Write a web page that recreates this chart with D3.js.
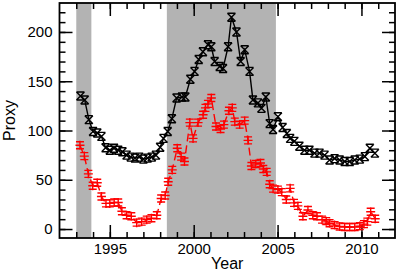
<!DOCTYPE html>
<html>
<head>
<meta charset="utf-8">
<script src="https://cdn.jsdelivr.net/npm/d3@7"></script>
<style>
  body { margin: 0; background: #fff; }
  svg text { font-family: "Liberation Sans", Arial, sans-serif; }
</style>
</head>
<body>
<div id="chart"></div>
<script>
// shaded intervals (years)
var bands = [[1993.0, 1993.9], [1998.4, 2004.9]];

// black series
var blackYears = [1993.25, 1993.5, 1993.75, 1994.0, 1994.25, 1994.5, 1994.75, 1995.0, 1995.25, 1995.5,
  1995.75, 1996.0, 1996.25, 1996.5, 1996.75, 1997.0, 1997.25, 1997.5, 1997.75, 1998.0,
  1998.2, 1998.45, 1998.7, 1998.98, 1999.3, 1999.5, 1999.8, 2000.05, 2000.3, 2000.55,
  2000.85, 2001.05, 2001.25, 2001.55, 2001.75, 2002.05, 2002.25, 2002.55, 2002.8, 2003.04,
  2003.33, 2003.53, 2003.83, 2004.04, 2004.3, 2004.53, 2004.73, 2005.02, 2005.3, 2005.55,
  2005.75, 2006.0, 2006.3, 2006.6, 2006.9, 2007.2, 2007.5, 2007.8, 2008.1, 2008.4,
  2008.7, 2009.0, 2009.3, 2009.6, 2009.9, 2010.2, 2010.5, 2010.8];
var blackVals = [135, 131, 111, 99, 97.5, 94, 82.5, 80, 82, 80,
  78.5, 75, 73, 72, 73, 71, 72, 73, 75, 83,
  92, 99, 112, 133, 134, 134, 152, 160, 172, 180,
  187, 185, 170, 165, 163, 185, 215, 200, 170, 182,
  160, 131, 128, 122.5, 134, 107, 101, 114, 103, 97,
  92, 89, 84, 80, 80, 77, 77, 75, 70, 71.5,
  70, 68.5, 68.5, 70, 71, 73.5, 82, 77];

// red series
var redYears = [1993.22, 1993.48, 1993.72, 1993.98, 1994.25, 1994.5, 1994.77, 1995.0, 1995.26, 1995.5,
  1995.72, 1996.0, 1996.28, 1996.6, 1996.9, 1997.2, 1997.48, 1997.8, 1998.06, 1998.3,
  1998.48, 1998.72, 1999.02, 1999.25, 1999.45, 1999.77, 1999.96, 2000.26, 2000.56, 2000.7,
  2000.85, 2001.05, 2001.33, 2001.6, 2001.8, 2002.1, 2002.3, 2002.45, 2002.74, 2003.04,
  2003.24, 2003.44, 2003.7, 2003.98, 2004.15, 2004.35, 2004.53, 2004.73, 2005.02, 2005.25,
  2005.52, 2005.75, 2005.98, 2006.21, 2006.51, 2006.81, 2007.1, 2007.35, 2007.65, 2007.9,
  2008.1, 2008.4, 2008.7, 2009.0, 2009.3, 2009.6, 2009.9, 2010.15, 2010.35, 2010.55,
  2010.82];
var redVals = [85, 74, 56, 44, 47, 33, 26, 26, 27, 27,
  18, 14, 13, 6.5, 7.5, 9.5, 11, 14, 31, 34,
  48, 60, 82, 73.5, 68.5, 108, 92, 108, 116, 123,
  127, 133, 104, 101.5, 106, 120, 123, 109, 106, 110,
  90, 64, 66, 67, 61, 58, 45.5, 41, 40, 37.5,
  30, 41.3, 26.5, 23.5, 13, 19.3, 14, 13, 9.5, 8,
  5.8, 4, 2.5, 2, 2, 2, 3, 5, 7.5, 17.6,
  10.5];

// axis ticks
var yMajor = [0, 50, 100, 150, 200];
var yMinor = [0, 10, 20, 30, 40, 50, 60, 70, 80, 90, 100, 110, 120, 130, 140, 150, 160, 170, 180, 190, 200, 210, 220];
var xMajor = [1995, 2000, 2005, 2010];
var xMinor = [1993, 1994, 1995, 1996, 1997, 1998, 1999, 2000, 2001, 2002, 2003, 2004, 2005, 2006, 2007, 2008, 2009, 2010, 2011];

var W = 399, H = 273;
var plotL = 59.5, plotR = 395, plotT = 3, plotB = 238;

var x = d3.scaleLinear().domain([1992, 2012]).range([plotL, plotR]);
var y = d3.scaleLinear().domain([-9.1, 229.4]).range([plotB, plotT]);

var svg = d3.select("#chart").append("svg")
    .attr("width", W)
    .attr("height", H);

// grey bands
svg.append("g").selectAll("rect")
    .data(bands)
  .enter().append("rect")
    .attr("x", function(d) { return x(d[0]); })
    .attr("y", plotT)
    .attr("width", function(d) { return x(d[1]) - x(d[0]); })
    .attr("height", plotB - plotT)
    .attr("fill", "#b3b3b3");

function styleAxis(g) {
  g.select(".domain").remove();
  g.selectAll("line").attr("stroke", "#000").attr("stroke-width", 1.5);
  g.selectAll("text").attr("fill", "#000").style("font-size", "15px");
}

// left / right
svg.append("g").attr("transform", "translate(" + plotL + ",0)")
    .call(d3.axisLeft(y).tickValues(yMinor).tickSize(-6).tickFormat(""))
    .call(styleAxis);
svg.append("g").attr("transform", "translate(" + plotL + ",0)")
    .call(d3.axisLeft(y).tickValues(yMajor).tickSize(-13).tickPadding(7).tickFormat(d3.format("d")))
    .call(styleAxis);
svg.append("g").attr("transform", "translate(" + plotR + ",0)")
    .call(d3.axisRight(y).tickValues(yMinor).tickSize(-6).tickFormat(""))
    .call(styleAxis);
svg.append("g").attr("transform", "translate(" + plotR + ",0)")
    .call(d3.axisRight(y).tickValues(yMajor).tickSize(-13).tickFormat(""))
    .call(styleAxis);

// bottom / top
svg.append("g").attr("transform", "translate(0," + plotB + ")")
    .call(d3.axisBottom(x).tickValues(xMinor).tickSize(-6).tickFormat(""))
    .call(styleAxis);
svg.append("g").attr("transform", "translate(0," + plotB + ")")
    .call(d3.axisBottom(x).tickValues(xMajor).tickSize(-13).tickPadding(5).tickFormat(d3.format("d")))
    .call(styleAxis);
svg.append("g").attr("transform", "translate(0," + plotT + ")")
    .call(d3.axisTop(x).tickValues(xMinor).tickSize(-6).tickFormat(""))
    .call(styleAxis);
svg.append("g").attr("transform", "translate(0," + plotT + ")")
    .call(d3.axisTop(x).tickValues(xMajor).tickSize(-13).tickFormat(""))
    .call(styleAxis);

// frame
svg.append("rect")
    .attr("x", plotL).attr("y", plotT)
    .attr("width", plotR - plotL).attr("height", plotB - plotT)
    .attr("fill", "none").attr("stroke", "#000").attr("stroke-width", 1.8);

var black = blackYears.map(function(d, i) { return {x: d, y: blackVals[i]}; });
var red = redYears.map(function(d, i) { return {x: d, y: redVals[i]}; });

var line = d3.line()
    .x(function(d) { return x(d.x); })
    .y(function(d) { return y(d.y); });

svg.append("path").datum(red)
    .attr("d", line)
    .attr("fill", "none")
    .attr("stroke", "#ff0000")
    .attr("stroke-width", 1.4)
    .attr("stroke-dasharray", "8,4");

svg.append("path").datum(black)
    .attr("d", line)
    .attr("fill", "none")
    .attr("stroke", "#000")
    .attr("stroke-width", 1.4);

// red markers: plus with capped vertical bar
var s = 4.5;
svg.append("g").selectAll("path")
    .data(red)
  .enter().append("path")
    .attr("transform", function(d) { return "translate(" + x(d.x) + "," + y(d.y) + ")"; })
    .attr("d", "M0," + (-s) + "V" + s +
               "M" + (-s) + ",0H" + s +
               "M-4," + (-s + 1) + "H4M-4," + (s - 1) + "H4")
    .attr("fill", "none")
    .attr("stroke", "#ff0000")
    .attr("stroke-width", 1.4);

// black markers: X with caps
var b = 4;
svg.append("g").selectAll("path")
    .data(black)
  .enter().append("path")
    .attr("transform", function(d) { return "translate(" + x(d.x) + "," + y(d.y) + ")"; })
    .attr("d", "M" + (-b) + "," + (-b) + "L" + b + "," + b +
               "M" + (-b) + "," + b + "L" + b + "," + (-b) +
               "M" + (-b) + "," + (-b) + "H" + b +
               "M" + (-b) + "," + b + "H" + b)
    .attr("fill", "none")
    .attr("stroke", "#000")
    .attr("stroke-width", 1.4);

// axis labels
svg.append("text")
    .attr("x", (plotL + plotR) / 2)
    .attr("y", 269)
    .attr("text-anchor", "middle")
    .style("font-size", "16px")
    .text("Year");

svg.append("text")
    .attr("transform", "translate(15," + ((plotT + plotB) / 2) + ") rotate(-90)")
    .attr("text-anchor", "middle")
    .style("font-size", "16px")
    .text("Proxy");
</script>
</body>
</html>
